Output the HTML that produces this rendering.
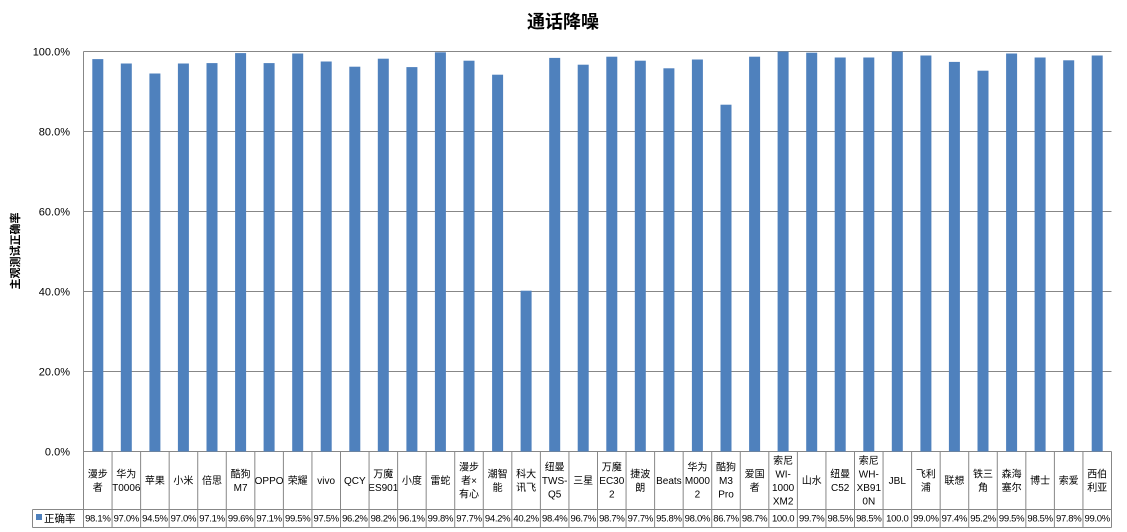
<!DOCTYPE html>
<html><head><meta charset="utf-8"><style>
body{margin:0;background:#fff;}
svg{display:block;font-family:"Liberation Sans","Noto Sans CJK SC",sans-serif;}
</style></head><body>
<svg id="c" width="1127" height="532" xmlns="http://www.w3.org/2000/svg"></svg>
<script>
const names=[["漫步","者"],["华为","T0006"],["苹果"],["小米"],["倍思"],["酷狗","M7"],["OPPO"],["荣耀"],["vivo"],["QCY"],["万魔","ES901"],["小度"],["雷蛇"],["漫步","者×","有心"],["潮智","能"],["科大","讯飞"],["纽曼","TWS-","Q5"],["三星"],["万魔","EC30","2"],["捷波","朗"],["Beats"],["华为","M000","2"],["酷狗","M3","Pro"],["爱国","者"],["索尼","WI-","1000","XM2"],["山水"],["纽曼","C52"],["索尼","WH-","XB91","0N"],["JBL"],["飞利","浦"],["联想"],["铁三","角"],["森海","塞尔"],["博士"],["索爱"],["西伯","利亚"]];
const vals=[98.1,97.0,94.5,97.0,97.1,99.6,97.1,99.5,97.5,96.2,98.2,96.1,99.8,97.7,94.2,40.2,98.4,96.7,98.7,97.7,95.8,98.0,86.7,98.7,100.0,99.7,98.5,98.5,100.0,99.0,97.4,95.2,99.5,98.5,97.8,99.0];
let s='';
const L=83.5,R=1111.5,T=51.5,B=451.5,n=36,w=(R-L)/n;
s+=`<text x="563" y="28" text-anchor="middle" font-size="18" font-weight="bold">通话降噪</text>`;
for(let i=0;i<=5;i++){const y=B-i*80;s+=`<line x1="${L}" x2="${R}" y1="${y}" y2="${y}" stroke="#878787" stroke-width="1"/>`;
s+=`<text x="70" y="${y+4}" text-anchor="end" font-size="11">${(i*20).toFixed(1)}%</text>`;}
s+=`<line x1="${L}" x2="${L}" y1="${T}" y2="${B}" stroke="#878787"/>`;
s+=`<text transform="translate(19,251) rotate(-90)" text-anchor="middle" font-size="11" font-weight="bold">主观测试正确率</text>`;
for(let i=0;i<n;i++){const cx=L+w*(i+0.5),h=vals[i]*4;
s+=`<rect x="${(cx-5.5).toFixed(1)}" y="${(B-h).toFixed(1)}" width="11" height="${h.toFixed(1)}" fill="#4f81bd"/>`;
const lines=names[i],lh=13.5,y0=480-(lines.length-1)*lh/2+4;
lines.forEach((t,j)=>{s+=`<text x="${cx.toFixed(1)}" y="${(y0+j*lh).toFixed(1)}" text-anchor="middle" font-size="10">${t}</text>`;});
const v=vals[i]==100?"100.0":vals[i].toFixed(1)+"%";
s+=`<text x="${cx.toFixed(1)}" y="521.5" text-anchor="middle" font-size="9.5" letter-spacing="-0.3">${v}</text>`;
}
for(let i=0;i<=n;i++){const x=L+w*i;s+=`<line x1="${x}" x2="${x}" y1="${B}" y2="527.5" stroke="#878787"/>`;}
s+=`<line x1="32.5" x2="${R}" y1="509.5" y2="509.5" stroke="#878787"/>`;
s+=`<line x1="32.5" x2="${R}" y1="527.5" y2="527.5" stroke="#878787"/>`;
s+=`<line x1="32.5" x2="32.5" y1="509.5" y2="527.5" stroke="#878787"/>`;
s+=`<rect x="36" y="514" width="6" height="6" fill="#4f81bd"/>`;
s+=`<text x="44" y="522" font-size="10.5">正确率</text>`;
document.getElementById('c').innerHTML=s;
</script>
</body></html>
